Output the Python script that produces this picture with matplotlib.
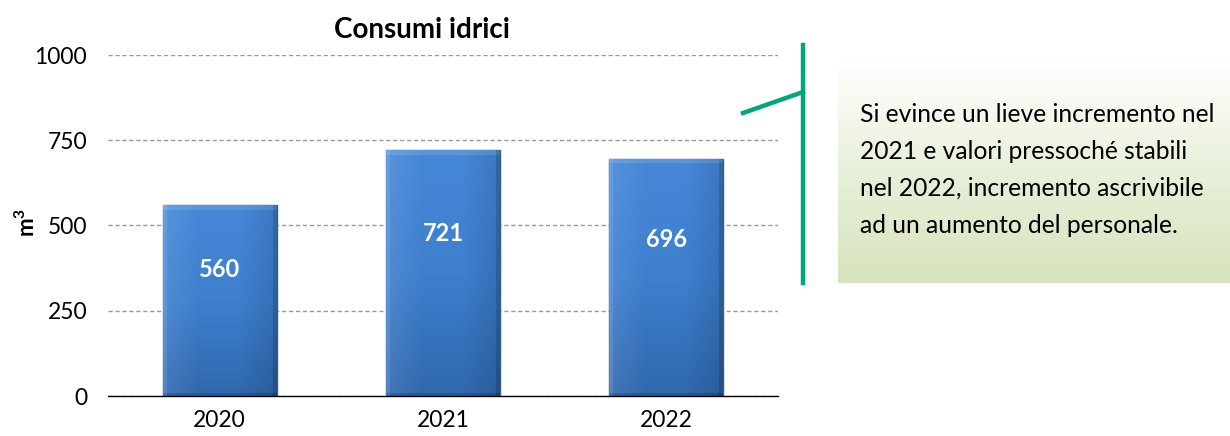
import numpy as np
import matplotlib
matplotlib.use("Agg")
import matplotlib.pyplot as plt
from matplotlib.colors import LinearSegmentedColormap
from matplotlib.patches import Rectangle

years = ["2020", "2021", "2022"]
values = [560, 721, 696]
yticks = [0, 250, 500, 750, 1000]
title = "Consumi idrici"
ylabel = "m$^\\mathbf{3}$"
note = ("Si evince un lieve incremento nel\n2021 e valori pressoché stabili\n"
        "nel 2022, incremento ascrivibile\nad un aumento del personale.")

plt.rcParams['font.family'] = ['Lato', 'DejaVu Sans']
plt.rcParams['mathtext.fontset'] = 'custom'
plt.rcParams['mathtext.bf'] = 'Lato:bold'
plt.rcParams['mathtext.rm'] = 'Lato'

W, H = 1230, 436
fig = plt.figure(figsize=(W / 100, H / 100), dpi=100)
ax = fig.add_axes([108 / W, 40 / H, 670 / W, 341 / H])

x = np.arange(len(years))
bars = ax.bar(x, values, width=0.51, color="#3B78C6", edgecolor="#2B5E9E", linewidth=1.0, zorder=3)

cmap = LinearSegmentedColormap.from_list("g", ["#3068AE", "#3E7FCE", "#4688D8"])
grad = np.linspace(0, 1, 256).reshape(-1, 1)
for b in bars:
    x0, w, h = b.get_x(), b.get_width(), b.get_height()
    im = ax.imshow(grad, cmap=cmap, aspect="auto", extent=[x0, x0 + w, 0, h],
                   origin="lower", zorder=3.1)
    im.set_clip_path(b)
    hgrad = np.linspace(0, 1, 256).reshape(1, -1)
    cm2 = LinearSegmentedColormap.from_list("h", [(1, 1, 1, 0.10), (1, 1, 1, 0.0), (0, 0, 0, 0.0), (0, 0, 0, 0.12)])
    im2 = ax.imshow(hgrad, cmap=cm2, aspect="auto", extent=[x0, x0 + w, 0, h], zorder=3.2)
    im2.set_clip_path(b)
    bev = 0.018
    ax.add_patch(Rectangle((x0, h - 14), w, 14, facecolor=(1, 1, 1, 0.12), edgecolor="none", zorder=3.3))
    ax.add_patch(Rectangle((x0, 0), bev, h, facecolor=(1, 1, 1, 0.10), edgecolor="none", zorder=3.3))
    ax.add_patch(Rectangle((x0 + w - bev, 0), bev, h, facecolor=(0, 0, 0, 0.15), edgecolor="none", zorder=3.3))
    ax.add_patch(Rectangle((x0, 0), w, 10, facecolor=(0, 0, 0, 0.15), edgecolor="none", zorder=3.3))

for xi, v in zip(x, values):
    ax.text(xi, v * 0.66, str(v), ha="center", va="center", color="white",
            fontsize=17, fontweight="bold", zorder=5)

ax.set_xlim(-0.5, 2.5)
ax.set_ylim(0, 1000)
ax.set_yticks(yticks)
ax.set_xticks(x)
ax.set_xticklabels(years)
ax.tick_params(axis="both", length=0, labelsize=16.5, colors="black")
ax.tick_params(axis="y", pad=15)
ax.tick_params(axis="x", pad=10)
for s in ["top", "right", "left"]:
    ax.spines[s].set_visible(False)
ax.spines["bottom"].set_color("black")
ax.spines["bottom"].set_linewidth(1.0)
ax.spines["bottom"].set_zorder(4)
ax.yaxis.grid(True, linestyle=(0, (3, 2)), color="#999999", linewidth=1.0, zorder=0)
ax.set_axisbelow(True)

fig.text(422 / W, 1 - 30 / H, title, ha="center", va="center", fontsize=20, fontweight="bold")
fig.text(27 / W, 1 - 222 / H, ylabel, ha="center", va="center", rotation=90, fontsize=16, fontweight="bold")

bx = fig.add_axes([838 / W, (H - 283) / H, (W - 838) / W, (283 - 60) / H])
bcm = LinearSegmentedColormap.from_list("b", ["#D7E4BD", "#E8F0DA", "#FFFFFF"])
bx.imshow(np.linspace(0, 1, 256).reshape(-1, 1), cmap=bcm, aspect="auto", origin="lower",
          extent=[0, 1, 0, 1])
bx.set_axis_off()
fig.text(860 / W, 1 - 170 / H, note, ha="left", va="center", fontsize=17.7, linespacing=1.72)

fig.add_artist(plt.Line2D([803 / W, 803 / W], [1 - 45 / H, 1 - 283 / H], color="#00A67E", linewidth=3.2))
fig.add_artist(plt.Line2D([743 / W, 803 / W], [1 - 113 / H, 1 - 92 / H], color="#00A67E", linewidth=3.2))

fig.savefig("out.png", dpi=100)
